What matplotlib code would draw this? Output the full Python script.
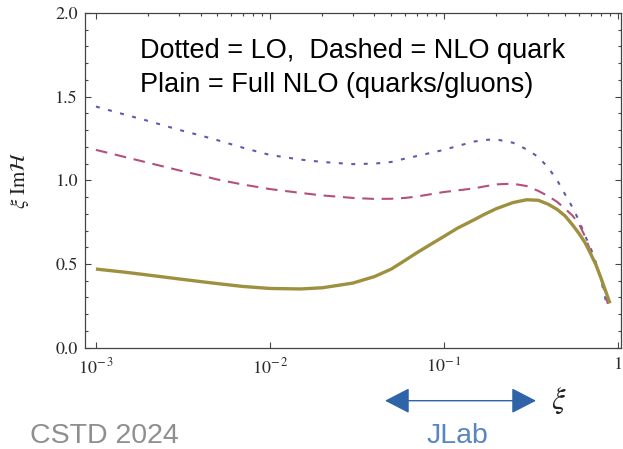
import numpy as np
import matplotlib.pyplot as plt
from matplotlib.patches import FancyArrowPatch
from matplotlib.ticker import FixedLocator, MultipleLocator, NullFormatter

plt.rcParams['mathtext.fontset'] = 'stix'
plt.rcParams['font.family'] = ['Liberation Sans', 'DejaVu Sans']

# skewness xi and xi*Im H for the three approximations
xi = [0.001, 0.0015, 0.002, 0.003, 0.004, 0.005, 0.007, 0.01, 0.015, 0.02,
      0.03, 0.04, 0.05, 0.06, 0.07, 0.085, 0.1, 0.12, 0.15, 0.17,
      0.2, 0.25, 0.3, 0.35, 0.4, 0.45, 0.5, 0.55, 0.6, 0.65,
      0.7, 0.75, 0.8]
lo = [1.441, 1.39, 1.355, 1.302, 1.268, 1.24, 1.195, 1.152, 1.124, 1.110,
      1.097, 1.100, 1.110, 1.13, 1.145, 1.165, 1.182, 1.205, 1.232, 1.241,
      1.245, 1.225, 1.185, 1.14, 1.075, 1.00, 0.915, 0.84, 0.76, 0.67,
      0.597, 0.51, 0.415]
nlo_quark = [1.182, 1.137, 1.105, 1.06, 1.03, 1.005, 0.975, 0.948, 0.925, 0.910,
             0.895, 0.889, 0.890, 0.895, 0.903, 0.918, 0.93, 0.940, 0.952, 0.963,
             0.976, 0.980, 0.966, 0.937, 0.905, 0.871, 0.83, 0.79, 0.74, 0.665,
             0.575, 0.50, 0.423]
nlo_full = [0.470, 0.450, 0.434, 0.411, 0.395, 0.383, 0.366, 0.354, 0.351, 0.358,
            0.386, 0.425, 0.470, 0.522, 0.567, 0.620, 0.664, 0.714, 0.765, 0.795,
            0.830, 0.867, 0.884, 0.881, 0.857, 0.826, 0.787, 0.735, 0.683, 0.628,
            0.562, 0.497, 0.421]

# end points near xi -> 1
xi_end_lo, lo_end = 0.867, 0.257
xi_end_q, q_end = 0.88, 0.262
xi_end_full, full_end = 0.905, 0.265

yticks = [0.0, 0.5, 1.0, 1.5, 2.0]
xticks = [1e-3, 1e-2, 1e-1, 1.0]
xticklabels = [r'$10^{-\,3}$', r'$10^{-\,2}$', r'$10^{-\,1}$', r'$1$']

W, H = 623, 449
fig = plt.figure(figsize=(W / 100, H / 100), dpi=100)
fig.patch.set_facecolor('white')


def fx(px):
    return px / W


def fy(py):
    return 1 - py / H


left, right, top, bottom = 85, 621, 13, 347.7
ax = fig.add_axes([fx(left), fy(bottom), fx(right - left), (bottom - top) / H])

ax.plot(xi + [xi_end_lo], lo + [lo_end], color='#5c5cab', lw=1.5,
        linestyle=(0, (1.9, 4.1)), dash_capstyle='butt')
ax.plot(xi + [xi_end_q], nlo_quark + [q_end], color='#b3507f', lw=1.5,
        linestyle=(0, (5.6, 3.7)))
ax.plot(xi + [xi_end_full], nlo_full + [full_end], color='#9d913f', lw=2.4,
        solid_capstyle='butt', solid_joinstyle='round')

ax.set_xscale('log')
ax.set_xlim(10 ** -3.063, 10 ** 0.02)
ax.set_ylim(0, 2.0)

ax.xaxis.set_major_locator(FixedLocator(xticks))
ax.set_xticklabels(xticklabels)
ax.xaxis.set_minor_locator(FixedLocator([m * 10.0 ** e for e in range(-3, 0) for m in range(2, 10)]))
ax.xaxis.set_minor_formatter(NullFormatter())
ax.set_yticks(yticks)
ax.set_yticklabels(['%.1f' % v for v in yticks])
ax.yaxis.set_minor_locator(MultipleLocator(0.1))

for s in ax.spines.values():
    s.set_color('#444444')
    s.set_linewidth(0.9)

ax.tick_params(which='both', direction='in', colors='#444444', width=0.8,
               top=True, right=True, labelcolor='#2a2a2a')
ax.tick_params(which='major', length=4.5, labelsize=13, pad=5)
ax.tick_params(axis='x', which='major', pad=7)
ax.tick_params(which='minor', length=2.5)
ax.tick_params(axis='x', which='minor', bottom=False)
for lab in ax.get_xticklabels() + ax.get_yticklabels():
    lab.set_family('STIXGeneral')

fig.text(fx(20), fy(180), r'$\xi\ \mathrm{Im}\mathcal{H}$', rotation=90,
         fontsize=15, ha='center', va='center', color='#222222')
fig.text(fx(559), fy(401), r'$\xi$', fontsize=22, ha='center', va='center',
         color='#222222')

fig.text(fx(140), fy(58.3), 'Dotted = LO,  Dashed = NLO quark',
         fontsize=19.5, va='baseline', ha='left', color='black')
fig.text(fx(140), fy(91.7), 'Plain = Full NLO (quarks/gluons)',
         fontsize=19.5, va='baseline', ha='left', color='black')

fig.text(fx(30), fy(443), 'CSTD 2024', fontsize=20.5, va='baseline',
         ha='left', color='#8f8f8f')
fig.text(fx(457), fy(443), 'JLab', fontsize=20.5, va='baseline',
         ha='center', color='#5b85be')

arrow = FancyArrowPatch((fx(385), fy(400.7)), (fx(536), fy(400.7)),
                        transform=fig.transFigure,
                        arrowstyle='<|-|>,head_length=1.55,head_width=0.8',
                        mutation_scale=10, color='#2f64a8', lw=1.0,
                        shrinkA=0, shrinkB=0)
fig.add_artist(arrow)

fig.savefig('out.png', dpi=100)
